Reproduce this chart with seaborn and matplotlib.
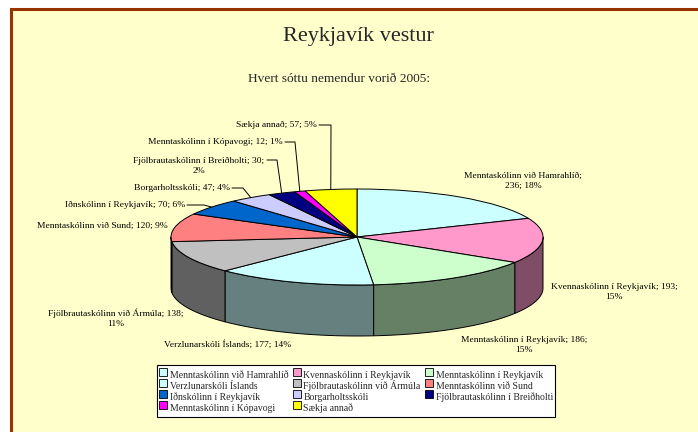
import numpy as np
import matplotlib
matplotlib.use("Agg")
import matplotlib.pyplot as plt
from matplotlib.patches import Rectangle
from matplotlib.lines import Line2D
from matplotlib.colors import to_rgb
import seaborn as sns

# data
schools = ['Menntaskólinn við Hamrahlíð', 'Kvennaskólinn í Reykjavík', 'Menntaskólinn í Reykjavík',
           'Verzlunarskóli Íslands', 'Fjölbrautaskólinn við Ármúla', 'Menntaskólinn við Sund',
           'Iðnskólinn í Reykjavík', 'Borgarholtsskóli', 'Fjölbrautaskólinn í Breiðholti',
           'Menntaskólinn í Kópavogi', 'Sækja annað']
students = [236, 193, 186, 177, 138, 120, 70, 47, 30, 12, 57]
percent = [18, 15, 15, 14, 11, 9, 6, 4, 2, 1, 5]
colors = ['#CCFFFF', '#FF99CC', '#CCFFCC', '#CCFFFF', '#C0C0C0', '#FF8080',
          '#0066CC', '#CCCCFF', '#000080', '#FF00FF', '#FFFF00']
# where each data label wraps: 0 none, 1 after name, 2 after value
label_breaks = [1, 2, 2, 0, 2, 0, 0, 0, 2, 0, 0]

# layout in pixels (from top-left)
W, H = 698, 432
CX, CY, RX, RY, DEPTH = 357, 237, 186, 48, 51
label_pos = [(523, 181, 'center'), (614, 292, 'center'), (524, 345, 'center'),
             (228, 344, 'center'), (116, 318, 'center'), (168, 226, 'right'),
             (185, 205, 'right'), (230, 188, 'right'), (199, 165.5, 'center'),
             (283, 142, 'right'), (317, 125, 'right')]
leaders = {6: (187, 205, 204), 7: (232, 188, 243), 8: (267, 160, 277),
           9: (285, 142, 295), 10: (319, 125, 331)}


def to_data(x, y):
    return (x - CX) / RX, (CY - y) / RY


sns.set_theme(style="white")
plt.rcParams['font.family'] = ['Liberation Serif', 'DejaVu Serif']

fig = plt.figure(figsize=(W / 100, H / 100), dpi=100, facecolor='white')
# cream chart area with brown frame on left/top
fig.patches.append(Rectangle((10.5 / W, -0.1), 1.2, (H - 8.5) / H + 0.1, transform=fig.transFigure,
                             facecolor='#FFFFCC', edgecolor='#993300', linewidth=2.2, zorder=-5))

ax = fig.add_axes([0, 0, 1, 1], zorder=1)
ax.patch.set_alpha(0)
wedges, _ = ax.pie(students, colors=colors, startangle=90, counterclock=False,
                   wedgeprops=dict(edgecolor='black', linewidth=0.7))
ax.set_xlim(to_data(0, 0)[0], to_data(W, 0)[0])
ax.set_ylim(to_data(0, H)[1], to_data(0, 0)[1])
ax.set_aspect('auto')
ax.axis('off')

# side walls for the front half of the pie
total = sum(students)
bounds = np.concatenate([[0], np.cumsum(students)]) / total * 360
d = DEPTH / RY
for i in range(len(students)):
    lo, hi = max(bounds[i], 90), min(bounds[i + 1], 270)
    if hi <= lo:
        continue
    t = np.radians(np.linspace(lo, hi, 80))
    xs, ys = np.sin(t), np.cos(t)
    side = tuple(c * 0.5 for c in to_rgb(colors[i]))
    ax.fill(np.concatenate([xs, xs[::-1]]), np.concatenate([ys, ys[::-1] - d]),
            facecolor=side, edgecolor='black', linewidth=0.7, zorder=0.5)

# data labels
for i, name in enumerate(schools):
    seps = ['; ', '; ']
    if label_breaks[i] == 1:
        seps[0] = ';\n'
    elif label_breaks[i] == 2:
        seps[1] = ';\n'
    text = f"{name}{seps[0]}{students[i]}{seps[1]}{percent[i]}%"
    x, y, ha = label_pos[i]
    ax.text(*to_data(x, y), text, ha=ha, va='center', multialignment='center',
            fontsize=6.8, linespacing=1.35, color='black')
    if i in leaders:
        xs0, yl, xe = leaders[i]
        m = np.radians((bounds[i] + bounds[i + 1]) / 2)
        p0, p1 = to_data(xs0, yl), to_data(xe, yl)
        ax.plot([p0[0], p1[0], np.sin(m)], [p0[1], p1[1], np.cos(m)], color='black', lw=0.7)

fig.text(358 / W, 1 - 37 / H, 'Reykjavík vestur', ha='center', va='center', fontsize=16)
fig.text(339 / W, 1 - 79 / H, 'Hvert sóttu nemendur vorið 2005:', ha='center', va='center', fontsize=9.6)

handles = [Line2D([], [], linestyle='none', marker='s', markersize=5.5, markerfacecolor=c,
                  markeredgecolor='black', markeredgewidth=0.6) for c in colors]
order = [0, 3, 6, 9, 1, 4, 7, 10, 2, 5, 8]
leg = fig.legend([handles[k] for k in order], [schools[k] for k in order], ncol=3,
                 loc='center', bbox_to_anchor=(356 / W, 1 - 391 / H), fontsize=7,
                 frameon=True, fancybox=False, edgecolor='black', framealpha=1,
                 handlelength=0.8, handleheight=1.9, handletextpad=0.3,
                 columnspacing=0.45, labelspacing=-0.35, borderpad=0.25, borderaxespad=0)
leg.get_frame().set_linewidth(0.8)
leg.get_frame().set_facecolor('white')
leg.set_zorder(2)

fig.savefig('out.png', dpi=100, facecolor=fig.get_facecolor())
